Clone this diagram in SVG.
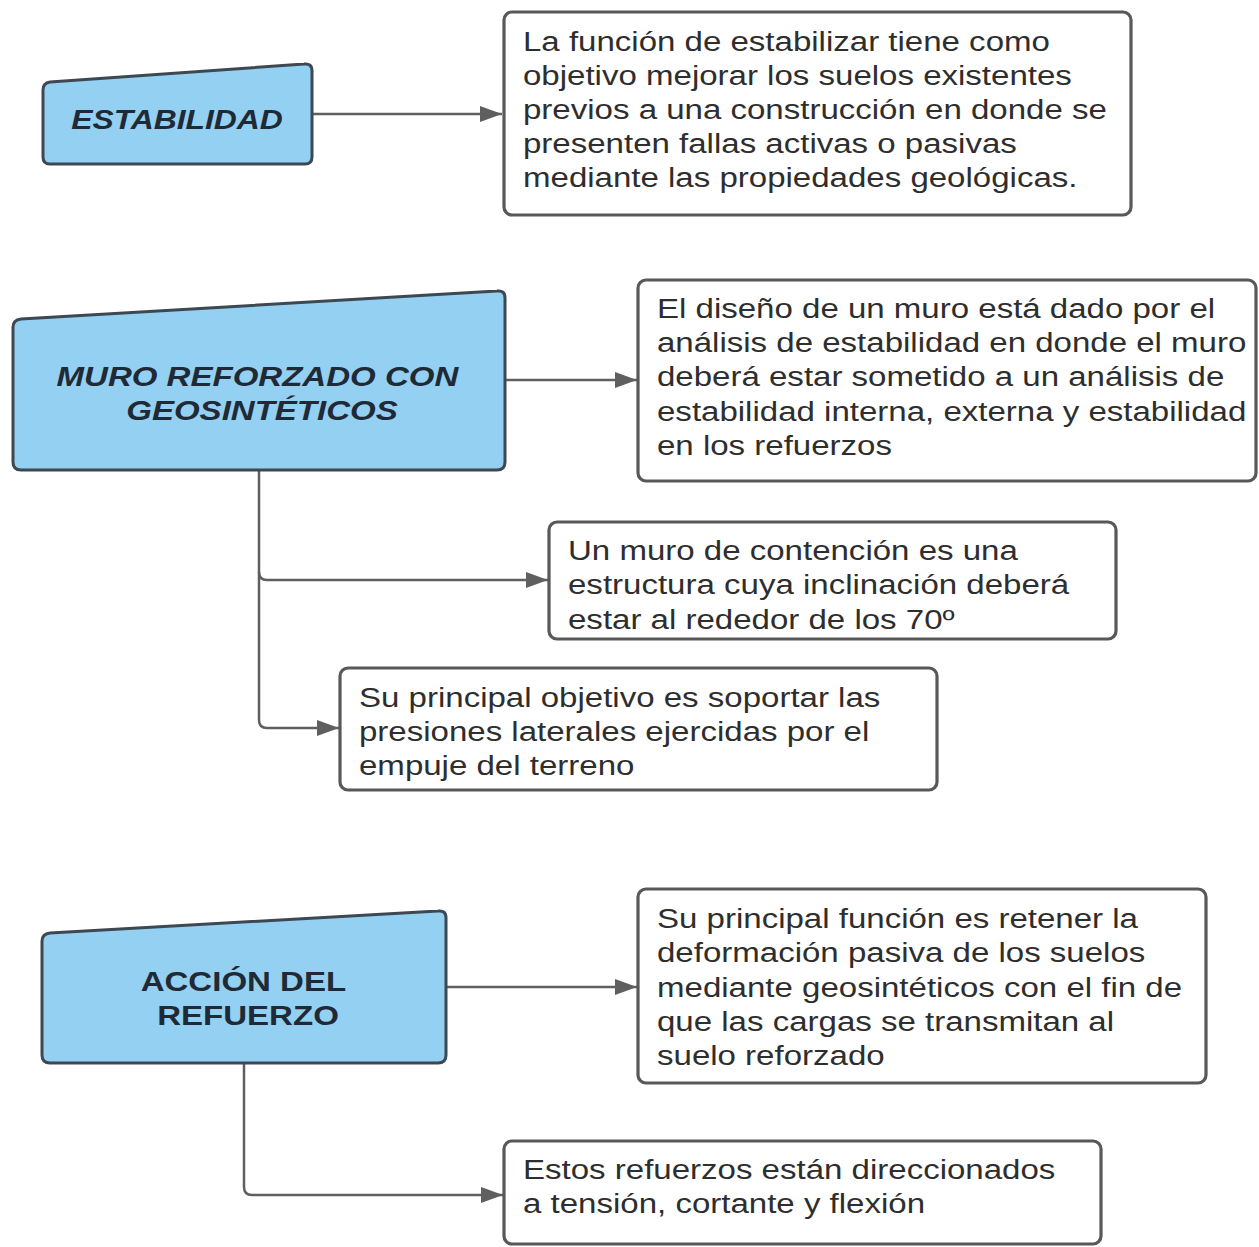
<svg xmlns="http://www.w3.org/2000/svg" width="1259" height="1247" viewBox="0 0 1259 1247">
<style>
.bg{fill:#ffffff}
.shape{fill:#93d0f1;stroke:#3d4853;stroke-width:3;stroke-linejoin:round}
.box{fill:#ffffff;stroke:#585858;stroke-width:3.2}
.conn{fill:none;stroke:#5f5f5f;stroke-width:2.5}
.t{font-family:"Liberation Sans",Arial,sans-serif;font-size:28px;fill:#2e2e2e}
.h{font-family:"Liberation Sans",Arial,sans-serif;font-size:28px;font-weight:bold;fill:#1f2a36;text-anchor:middle}
.i{font-style:italic}
</style>
<defs>
<marker id="arr" viewBox="0 0 22 16" refX="22" refY="8" markerWidth="22" markerHeight="16" markerUnits="userSpaceOnUse" orient="auto">
<path d="M0,0 L22,8 L0,16 Z" fill="#5f5f5f"/>
</marker>
</defs>
<rect class="bg" x="0" y="0" width="1259" height="1247"/>

<g id="connectors">
<path class="conn" d="M313,114 H502" marker-end="url(#arr)"/>
<path class="conn" d="M506,380 H637" marker-end="url(#arr)"/>
<path class="conn" d="M259,471 V720 Q259,728 267,728 H339" marker-end="url(#arr)"/>
<path class="conn" d="M259,572 Q259,580 267,580 H548" marker-end="url(#arr)"/>
<path class="conn" d="M447,987 H637" marker-end="url(#arr)"/>
<path class="conn" d="M244,1064 V1187 Q244,1195 252,1195 H503" marker-end="url(#arr)"/>
</g>

<g id="n-estabilidad">
<path class="shape" d="M50,82 L304,64 Q312,63 312,71 L312,157 Q312,164 305,164 L50,164 Q43,164 43,157 L43,90 Q43,83 50,82 Z"/>
<text class="h i" transform="translate(177,129) scale(1.18,1)" style="font-size:27px"><tspan x="0" y="0">ESTABILIDAD</tspan></text>
</g>

<g id="n-estabilidad-desc">
<rect class="box" x="504" y="12" width="627" height="203" rx="8"/>
<text class="t" transform="translate(523,51) scale(1.18,1)">
<tspan x="0" y="0">La función de estabilizar tiene como</tspan>
<tspan x="0" y="34">objetivo mejorar los suelos existentes</tspan>
<tspan x="0" y="68">previos a una construcción en donde se</tspan>
<tspan x="0" y="102">presenten fallas activas o pasivas</tspan>
<tspan x="0" y="136">mediante las propiedades geológicas.</tspan>
</text>
</g>

<g id="n-muro">
<path class="shape" d="M21,319 L497,291 Q505,290 505,298 L505,462 Q505,470 497,470 L21,470 Q13,470 13,462 L13,327 Q13,320 21,319 Z"/>
<text class="h i" transform="translate(262,386) scale(1.18,1)">
<tspan x="0" y="0">MURO REFORZADO CON</tspan>
<tspan x="0" y="34">GEOSINTÉTICOS</tspan>
</text>
</g>

<g id="n-muro-desc">
<rect class="box" x="638" y="280" width="618" height="201" rx="8"/>
<text class="t" transform="translate(657,318) scale(1.18,1)">
<tspan x="0" y="0">El diseño de un muro está dado por el</tspan>
<tspan x="0" y="34">análisis de estabilidad en donde el muro</tspan>
<tspan x="0" y="68">deberá estar sometido a un análisis de</tspan>
<tspan x="0" y="103">estabilidad interna, externa y estabilidad</tspan>
<tspan x="0" y="137">en los refuerzos</tspan>
</text>
</g>

<g id="n-contencion">
<rect class="box" x="549" y="522" width="567" height="117" rx="8"/>
<text class="t" transform="translate(568,560) scale(1.18,1)">
<tspan x="0" y="0">Un muro de contención es una</tspan>
<tspan x="0" y="34">estructura cuya inclinación deberá</tspan>
<tspan x="0" y="69">estar al rededor de los 70º</tspan>
</text>
</g>

<g id="n-objetivo">
<rect class="box" x="340" y="668" width="597" height="122" rx="8"/>
<text class="t" transform="translate(359,707) scale(1.18,1)">
<tspan x="0" y="0">Su principal objetivo es soportar las</tspan>
<tspan x="0" y="34">presiones laterales ejercidas por el</tspan>
<tspan x="0" y="68">empuje del terreno</tspan>
</text>
</g>

<g id="n-accion">
<path class="shape" d="M50,933 L438,911 Q446,910 446,918 L446,1055 Q446,1063 438,1063 L50,1063 Q42,1063 42,1055 L42,941 Q42,934 50,933 Z"/>
<text class="h" transform="translate(248,991) scale(1.18,1)">
<tspan x="0" y="0">ACCIÓN DEL</tspan>
<tspan x="0" y="34">REFUERZO</tspan>
</text>
</g>

<g id="n-accion-desc">
<rect class="box" x="638" y="889" width="568" height="194" rx="8"/>
<text class="t" transform="translate(657,928) scale(1.18,1)">
<tspan x="0" y="0">Su principal función es retener la</tspan>
<tspan x="0" y="34">deformación pasiva de los suelos</tspan>
<tspan x="0" y="69">mediante geosintéticos con el fin de</tspan>
<tspan x="0" y="103">que las cargas se transmitan al</tspan>
<tspan x="0" y="137">suelo reforzado</tspan>
</text>
</g>

<g id="n-refuerzos">
<rect class="box" x="504" y="1141" width="597" height="103" rx="8"/>
<text class="t" transform="translate(523,1179) scale(1.18,1)">
<tspan x="0" y="0">Estos refuerzos están direccionados</tspan>
<tspan x="0" y="34">a tensión, cortante y flexión</tspan>
</text>
</g>
</svg>
